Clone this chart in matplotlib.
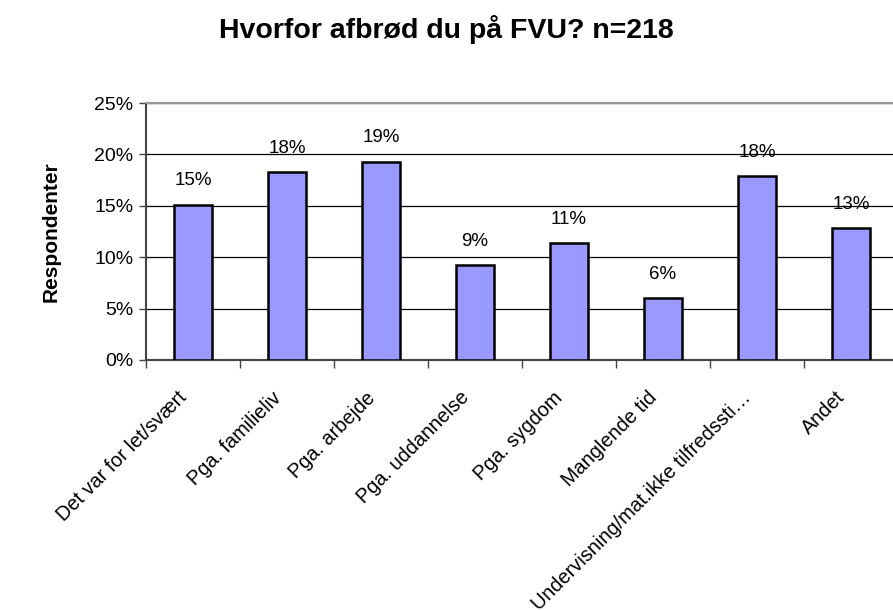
import numpy as np
import matplotlib
matplotlib.use('Agg')
import matplotlib.pyplot as plt
from matplotlib.ticker import FuncFormatter
from matplotlib.transforms import ScaledTranslation

categories = ['Det var for let/svært', 'Pga. familieliv', 'Pga. arbejde',
              'Pga. uddannelse', 'Pga. sygdom', 'Manglende tid',
              'Undervisning/mat.ikke tilfredssti…', 'Andet']
values = [15.1, 18.3, 19.3, 9.2, 11.4, 6.0, 17.9, 12.8]
yticks = [0, 5, 10, 15, 20, 25]

plt.rcParams['font.family'] = ['Liberation Sans', 'DejaVu Sans']

fig = plt.figure(figsize=(8.93, 6.1), dpi=100)
ax = fig.add_axes([146 / 893, 1 - 360 / 610, 752 / 893, 257 / 610])

x = np.arange(len(categories))
ax.bar(x, values, width=0.4, color='#9999FF', edgecolor='black',
       linewidth=1.8, zorder=3)
for xi, v in zip(x, values):
    ax.annotate('%d%%' % round(v), (xi, v), xytext=(0, 11),
                textcoords='offset points', ha='center', va='bottom',
                fontsize=13.5)

ax.set_xlim(-0.5, len(categories) - 0.5)
ax.set_ylim(0, 25)
ax.set_yticks(yticks)
ax.yaxis.set_major_formatter(FuncFormatter(lambda v, p: '%d%%' % v))
ax.yaxis.grid(True, color='black', linewidth=0.9, zorder=0)
ax.tick_params(axis='y', labelsize=14, length=5, width=1, color='#444444',
               pad=4)

# ticks at category boundaries, labels at centres
ax.set_xticks(np.arange(len(categories) + 1) - 0.5)
ax.set_xticklabels([])
ax.set_xticks(x, minor=True)
ax.set_xticklabels(categories, minor=True, rotation=45, ha='right',
                   va='center', rotation_mode='anchor', fontsize=14.3)
ax.tick_params(axis='x', which='major', length=6, width=1, color='#444444')
ax.tick_params(axis='x', which='minor', length=0, pad=25)
shift = ScaledTranslation(-9 / 100, 0, fig.dpi_scale_trans)
for lab in ax.get_xticklabels(minor=True):
    lab.set_transform(lab.get_transform() + shift)

ax.spines['left'].set_color('#444444')
ax.spines['bottom'].set_color('#444444')
ax.spines['top'].set_color('#999999')
ax.spines['top'].set_linewidth(1.5)
ax.spines['right'].set_visible(False)
ax.spines['left'].set_linewidth(1.5)
ax.spines['bottom'].set_linewidth(1.5)

ax.set_ylabel('Respondenter', fontsize=15, fontweight='bold', labelpad=24)
fig.text(0.5, 1 - 30 / 610, 'Hvorfor afbrød du på FVU? n=218', ha='center',
         va='center', fontsize=20.5, fontweight='bold')

fig.savefig('out.png', dpi=100)
